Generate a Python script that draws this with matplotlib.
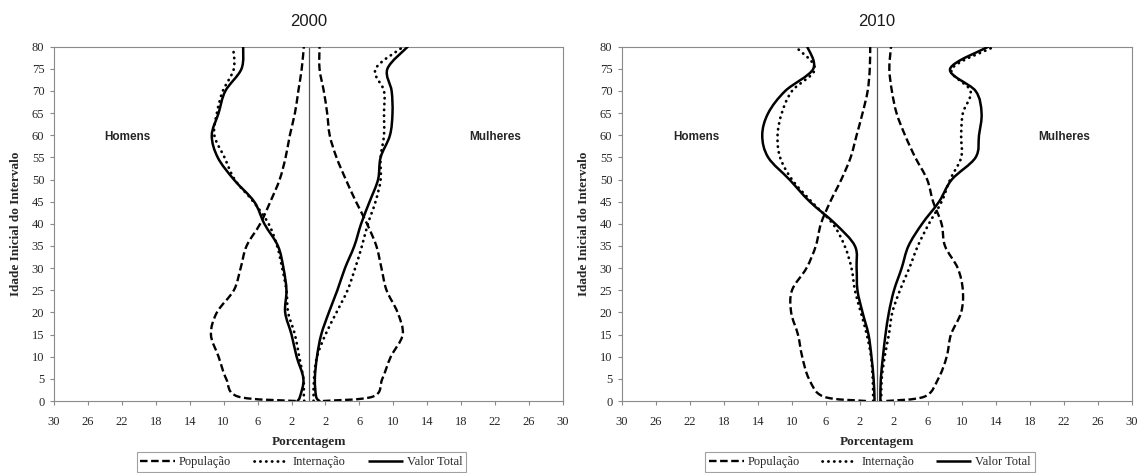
import matplotlib
matplotlib.use('Agg')
import matplotlib.pyplot as plt
from matplotlib.path import Path
from matplotlib.patches import PathPatch
from matplotlib.lines import Line2D

# ---------------- data ----------------
ages = [0, 1, 5, 10, 15, 20, 25, 30, 35, 40, 45, 50, 55, 60, 65, 70, 75, 80]
years = ['2000', '2010']
xtick_values = [-30, -26, -22, -18, -14, -10, -6, -2, 2, 6, 10, 14, 18, 22, 26, 30]
xtick_labels = ['30', '26', '22', '18', '14', '10', '6', '2', '2', '6', '10', '14', '18', '22', '26', '30']
ytick_values = [0, 5, 10, 15, 20, 25, 30, 35, 40, 45, 50, 55, 60, 65, 70, 75, 80]
series_names = ['População', 'Internação', 'Valor Total']

# Homens (men, drawn on the left)
pop_h_2000 = [1.5, 8.3, 9.7, 10.6, 11.5, 10.8, 8.8, 8.0, 7.3, 5.7, 4.5, 3.4, 2.7, 2.2, 1.6, 1.2, 0.8, 0.55]
int_h_2000 = [0.5, 0.55, 0.6, 1.1, 1.6, 2.4, 2.6, 3.1, 3.7, 4.7, 6.5, 8.7, 9.9, 11.1, 10.8, 10.1, 8.8, 8.9]
tot_h_2000 = [1.3, 1.0, 0.6, 1.4, 2.0, 2.75, 2.6, 2.95, 3.6, 5.2, 6.4, 8.8, 10.7, 11.4, 10.6, 9.8, 7.9, 7.7]
# Mulheres (women, drawn on the right)
pop_m_2000 = [1.7, 7.6, 8.7, 9.7, 11.1, 10.5, 9.2, 8.6, 8.0, 6.9, 5.6, 4.4, 3.3, 2.5, 2.2, 1.8, 1.3, 1.3]
int_m_2000 = [0.6, 0.6, 0.65, 1.0, 2.0, 3.3, 4.6, 5.5, 6.3, 7.0, 7.9, 8.5, 8.5, 8.9, 8.9, 8.9, 7.9, 11.2]
tot_m_2000 = [1.3, 0.9, 0.75, 1.0, 1.5, 2.4, 3.4, 4.3, 5.4, 6.2, 7.2, 8.2, 8.5, 9.6, 9.9, 9.8, 9.3, 11.7]

pop_h_2010 = [1.3, 6.3, 8.0, 8.8, 9.3, 10.1, 10.0, 8.3, 7.2, 6.6, 5.5, 4.2, 3.1, 2.4, 1.7, 1.1, 0.85, 0.8]
int_h_2010 = [0.45, 0.45, 0.5, 0.7, 1.2, 1.9, 2.6, 3.0, 3.8, 5.2, 7.7, 10.0, 11.4, 11.7, 11.2, 10.0, 7.3, 9.6]
tot_h_2010 = [0.3, 0.3, 0.4, 0.65, 1.0, 1.7, 2.3, 2.4, 2.6, 4.9, 7.9, 10.3, 12.8, 13.5, 12.8, 10.8, 7.5, 8.2]
pop_m_2010 = [1.1, 5.6, 7.2, 8.2, 8.7, 9.9, 10.1, 9.5, 8.0, 7.6, 6.6, 5.9, 4.5, 3.3, 2.3, 1.75, 1.45, 1.65]
int_m_2010 = [0.45, 0.5, 0.55, 0.9, 1.4, 1.8, 2.7, 3.8, 4.8, 6.1, 7.6, 8.6, 9.9, 9.9, 10.1, 11.0, 8.8, 13.8]
tot_m_2010 = [0.4, 0.4, 0.45, 0.7, 1.0, 1.4, 2.0, 2.9, 3.7, 5.3, 7.3, 8.8, 11.6, 12.0, 12.3, 11.6, 8.6, 13.1]

panels = {
    '2000': {'h': [pop_h_2000, int_h_2000, tot_h_2000], 'm': [pop_m_2000, int_m_2000, tot_m_2000]},
    '2010': {'h': [pop_h_2010, int_h_2010, tot_h_2010], 'm': [pop_m_2010, int_m_2010, tot_m_2010]},
}

# ---------------- style ----------------
SERIF = ['Liberation Serif', 'DejaVu Serif']
SANS = ['Liberation Sans', 'DejaVu Sans']
SPINE = '#8a8a8a'
TXT = '#262626'
styles = [
    dict(linestyle=(0, (3.2, 1.5)), linewidth=1.7, capstyle='butt'),
    dict(linestyle=(0, (0.1, 2.0)), linewidth=2.0, capstyle='round'),
    dict(linestyle='-', linewidth=1.8, capstyle='round'),
]


def smooth_path(xs, ys):
    """Excel-like smoothed line (Catmull-Rom -> cubic Bezier) through the data points."""
    pts = list(zip(xs, ys))
    n = len(pts)
    verts = [pts[0]]
    codes = [Path.MOVETO]
    for i in range(n - 1):
        p0 = pts[i - 1] if i > 0 else pts[i]
        p1 = pts[i]
        p2 = pts[i + 1]
        p3 = pts[i + 2] if i + 2 < n else pts[i + 1]
        c1 = (p1[0] + (p2[0] - p0[0]) / 6.0, p1[1] + (p2[1] - p0[1]) / 6.0)
        c2 = (p2[0] - (p3[0] - p1[0]) / 6.0, p2[1] - (p3[1] - p1[1]) / 6.0)
        verts += [c1, c2, p2]
        codes += [Path.CURVE4] * 3
    return Path(verts, codes)


fig = plt.figure(figsize=(11.38, 4.73), dpi=100)
fig.patch.set_facecolor('white')

W, H = 1138.0, 473.0
axes_px = [(54, 563), (622, 1132)]
top_px, bot_px = 46.7, 401.0

for (x0, x1), year in zip(axes_px, years):
    ax = fig.add_axes([x0 / W, 1 - bot_px / H, (x1 - x0) / W, (bot_px - top_px) / H])
    ax.set_xlim(-30, 30)
    ax.set_ylim(0, 80)

    data = panels[year]
    for vals, st in zip(data['h'], styles):
        p = PathPatch(smooth_path([-v for v in vals], ages), fill=False, edgecolor='black',
                      linestyle=st['linestyle'], linewidth=st['linewidth'], zorder=3)
        p.set_capstyle(st['capstyle'])
        ax.add_patch(p)
    for vals, st in zip(data['m'], styles):
        p = PathPatch(smooth_path(vals, ages), fill=False, edgecolor='black',
                      linestyle=st['linestyle'], linewidth=st['linewidth'], zorder=3)
        p.set_capstyle(st['capstyle'])
        ax.add_patch(p)

    ax.axvline(0, color='#555555', linewidth=0.9, zorder=2)

    ax.set_xticks(xtick_values)
    ax.set_xticklabels(xtick_labels, fontfamily=SERIF, fontsize=9, color=TXT)
    ax.set_yticks(ytick_values)
    ax.set_yticklabels([str(v) for v in ytick_values], fontfamily=SERIF, fontsize=9, color=TXT)
    ax.tick_params(axis='x', direction='out', length=3, width=0.8, color=SPINE, pad=7.5)
    ax.tick_params(axis='y', direction='out', length=3, width=0.8, color=SPINE, pad=4)
    for s in ax.spines.values():
        s.set_color(SPINE)
        s.set_linewidth(0.8)

    ax.set_xlabel('Porcentagem', fontfamily=SERIF, fontsize=9.5, fontweight='bold', color=TXT)
    ax.xaxis.set_label_coords(0.5, -0.099)
    ax.set_ylabel('Idade Inicial do Intervalo', fontfamily=SERIF, fontsize=9.5,
                  fontweight='bold', color=TXT)
    ax.yaxis.set_label_coords(-0.062, 0.5)

    ax.text(-21.3, 59.5, 'Homens', ha='center', va='center', fontfamily=SANS,
            fontsize=8.5, fontweight='bold', color=TXT)
    ax.text(22.0, 59.5, 'Mulheres', ha='center', va='center', fontfamily=SANS,
            fontsize=8.5, fontweight='bold', color=TXT)

    fig.text(((x0 + x1) / 2) / W, 1 - 21 / H, year, ha='center', va='center',
             fontfamily=SANS, fontsize=12, color='#1a1a1a')

    handles = [Line2D([], [], color='black', linestyle=st['linestyle'],
                      linewidth=st['linewidth'],
                      dash_capstyle=st['capstyle'], solid_capstyle='butt') for st in styles]
    leg = ax.legend(handles, series_names, loc='center', bbox_to_anchor=(0.486, -0.172),
                    ncol=3, frameon=True, fancybox=False, handlelength=2.8,
                    handletextpad=0.3, columnspacing=1.8, borderpad=0.3,
                    prop={'family': SERIF, 'size': 9})
    leg.get_frame().set_edgecolor(SPINE)
    leg.get_frame().set_linewidth(0.8)
    for t in leg.get_texts():
        t.set_color(TXT)

fig.savefig('out.png', dpi=100, facecolor='white')
